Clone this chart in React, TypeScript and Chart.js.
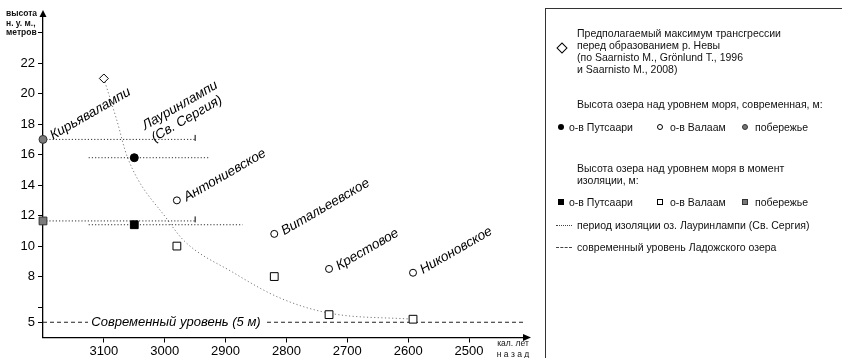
import React, { useEffect, useRef } from 'react';
import { Chart, registerables } from 'chart.js';

Chart.register(...registerables);

// ---------- data ----------
const xTicks = [3100, 3000, 2900, 2800, 2700, 2600, 2500];
const yTicks = [5, 6, 8, 10, 12, 14, 16, 18, 20, 22, 24];
const yTickLabels = ['5', '', '8', '10', '12', '14', '16', '18', '20', '22', ''];

const maxTransgression = [{ x: 3100, y: 21 }];
const coastCurrent = [{ x: 3200, y: 17 }];
const coastIsolation = [{ x: 3200, y: 11.65 }];
const putsaariCurrent = [{ x: 3050, y: 15.8 }];
const putsaariIsolation = [{ x: 3050, y: 11.4 }];

const valaamLakes = ['Антониевское', 'Витальеевское', 'Крестовое', 'Никоновское'];
const valaamYears = [2980, 2820, 2730, 2592];
const valaamCurrent = [13, 10.8, 8.5, 8.25];
const valaamIsolation = [10, 8, 5.5, 5.2];

const coastLake = 'Кирьявалампи';
const putsaariLake = ['Лауринлампи', '(Св. Сергия)'];

const curveYears = [3100, 3079, 3061, 2995, 2967, 2889, 2811, 2730, 2592];
const curveHeights = [21, 18.3, 15.8, 11.7, 10.3, 8.3, 6.6, 5.6, 5.2];

const isoLevels = [17, 15.8, 11.65, 11.4];
const isoStart = [3200, 3125, 3200, 3125];
const isoEnd = [2950, 2928, 2950, 2872];
const isoMarks = [{ x: 2950, y: 17.1 }, { x: 2950, y: 11.75 }];

const modernLevel = 5;
const xMin = 2408;
const xMax = 3200;
const yMin = 4;
const yMax = 25.1;

const modernText = 'Современный уровень (5 м)';
const yTitle = ['высота', 'н. у. м.,', 'метров'];
const xTitle = ['кал. лет', 'назад'];

const FONT = '"Liberation Sans", Arial, sans-serif';

const annotate = {
  id: 'annotate',
  afterDatasetsDraw(chart: any) {
    const { ctx, scales, chartArea } = chart;
    const xs = scales.x;
    const ys = scales.y;
    ctx.save();
    const yy = ys.getPixelForValue(modernLevel);
    const cx = chartArea.left + 133;
    ctx.fillStyle = '#fff';
    ctx.fillRect(cx - 88, yy - 7, 176, 14);
    ctx.fillStyle = '#000';
    ctx.font = 'italic 13px ' + FONT;
    ctx.textAlign = 'center';
    ctx.textBaseline = 'middle';
    ctx.fillText(modernText, cx, yy);

    const ang = -Math.PI / 6;
    const rot = (t: string, px: number, py: number, lx = 0, ly = 0) => {
      ctx.save();
      ctx.translate(px, py);
      ctx.rotate(ang);
      ctx.textAlign = 'left';
      ctx.textBaseline = 'middle';
      ctx.fillText(t, lx, ly);
      ctx.restore();
    };
    ctx.font = 'italic 13.5px ' + FONT;
    rot(coastLake, xs.getPixelForValue(coastCurrent[0].x) + 8, ys.getPixelForValue(coastCurrent[0].y) - 3);
    valaamLakes.forEach((n, i) => {
      rot(n, xs.getPixelForValue(valaamYears[i]) + 8, ys.getPixelForValue(valaamCurrent[i]) - 2);
    });
    const lx = xs.getPixelForValue(putsaariCurrent[0].x) + 9;
    const ly = ys.getPixelForValue(putsaariCurrent[0].y) - 31;
    rot(putsaariLake[0], lx, ly, 0, 0);
    rot(putsaariLake[1], lx, ly, 2, 15);
    ctx.restore();
  },
  afterDraw(chart: any) {
    const { ctx, chartArea } = chart;
    const L = chartArea.left;
    const B = chartArea.bottom;
    const T = chartArea.top;
    const R = chartArea.right;
    ctx.save();
    ctx.fillStyle = '#000';
    ctx.beginPath();
    ctx.moveTo(L, T - 6);
    ctx.lineTo(L - 3.5, T + 1);
    ctx.lineTo(L + 3.5, T + 1);
    ctx.closePath();
    ctx.fill();
    ctx.beginPath();
    ctx.moveTo(R + 6, B);
    ctx.lineTo(R - 2, B - 3.5);
    ctx.lineTo(R - 2, B + 3.5);
    ctx.closePath();
    ctx.fill();
    ctx.font = 'bold 8.5px ' + FONT;
    ctx.textAlign = 'left';
    ctx.textBaseline = 'middle';
    ctx.fillStyle = '#111';
    ctx.fillText(yTitle[0], 6, 14);
    ctx.fillText(yTitle[1], 6, 24);
    ctx.fillText(yTitle[2], 6, 33);
    ctx.font = '8.5px ' + FONT;
    ctx.textAlign = 'center';
    ctx.fillText(xTitle[0], R - 12, B + 6);
    ctx.fillText(xTitle[1].split('').join(' '), R - 12, B + 17);
    ctx.restore();
  },
};

export default function App() {
  const ref = useRef<HTMLCanvasElement>(null);

  useEffect(() => {
    if (!ref.current) return;
    const pt = (x: number, y: number) => ({ x, y });
    const lineDs = (data: any[], color: string, dash: number[]) => ({
      data,
      showLine: true,
      borderColor: color,
      borderWidth: 1,
      borderDash: dash,
      pointRadius: 0,
      fill: false,
    });
    const datasets: any[] = [
      {
        data: maxTransgression,
        pointStyle: 'rectRot',
        pointRadius: 4.5,
        backgroundColor: '#fff',
        borderColor: '#000',
        borderWidth: 1,
        clip: false,
      },
      {
        data: coastCurrent,
        pointStyle: 'circle',
        pointRadius: 4,
        backgroundColor: '#7a7a7a',
        borderColor: '#333',
        borderWidth: 1,
        clip: false,
      },
      {
        data: coastIsolation,
        pointStyle: 'rect',
        pointRadius: 5.5,
        backgroundColor: '#7a7a7a',
        borderColor: '#333',
        borderWidth: 1,
        clip: false,
      },
      {
        data: putsaariCurrent,
        pointStyle: 'circle',
        pointRadius: 4,
        backgroundColor: '#000',
        borderColor: '#000',
        borderWidth: 1,
      },
      {
        data: putsaariIsolation,
        pointStyle: 'rect',
        pointRadius: 5.5,
        backgroundColor: '#000',
        borderColor: '#000',
        borderWidth: 1,
      },
      {
        data: valaamYears.map((x, i) => pt(x, valaamCurrent[i])),
        pointStyle: 'circle',
        pointRadius: 3.5,
        backgroundColor: '#fff',
        borderColor: '#000',
        borderWidth: 1,
      },
      {
        data: valaamYears.map((x, i) => pt(x, valaamIsolation[i])),
        pointStyle: 'rect',
        pointRadius: 5.5,
        backgroundColor: '#fff',
        borderColor: '#000',
        borderWidth: 1,
      },
      {
        data: isoMarks,
        pointStyle: 'line',
        rotation: 90,
        pointRadius: 3,
        borderColor: '#000',
        borderWidth: 1,
      },
      ...isoLevels.map((lv, i) => lineDs([pt(isoStart[i], lv), pt(isoEnd[i], lv)], '#333', [1.2, 2])),
      {
        ...lineDs(curveYears.map((x, i) => pt(x, curveHeights[i])), '#777', [1.2, 2.4]),
        cubicInterpolationMode: 'monotone',
      },
      lineDs([pt(xMax, modernLevel), pt(xMin, modernLevel)], '#222', [4, 3]),
    ];

    const chart = new Chart(ref.current, {
      type: 'scatter',
      data: { datasets },
      options: {
        animation: false,
        responsive: false,
        layout: { padding: { top: 16, right: 317, left: 0, bottom: 0 } },
        plugins: { legend: { display: false }, tooltip: { enabled: false } },
        scales: {
          x: {
            type: 'linear',
            reverse: true,
            min: xMin,
            max: xMax,
            afterBuildTicks: (s: any) => {
              s.ticks = xTicks.map((v) => ({ value: v }));
            },
            afterFit: (s: any) => {
              s.height = 20.5;
            },
            grid: { display: true, drawOnChartArea: false, drawTicks: true, tickLength: 5, color: '#000', lineWidth: 1 },
            border: { display: true, color: '#000', width: 1.3 },
            ticks: {
              color: '#000',
              font: { family: FONT, size: 13 },
              padding: 1,
              maxRotation: 0,
              autoSkip: false,
              callback: (v: any) => String(v),
            },
          },
          y: {
            type: 'linear',
            min: yMin,
            max: yMax,
            afterBuildTicks: (s: any) => {
              s.ticks = yTicks.map((v) => ({ value: v }));
            },
            afterFit: (s: any) => {
              s.width = 43;
            },
            grid: { display: true, drawOnChartArea: false, drawTicks: true, tickLength: 5, color: '#000', lineWidth: 1 },
            border: { display: true, color: '#000', width: 1.3 },
            ticks: {
              color: '#000',
              font: { family: FONT, size: 13 },
              padding: 3,
              autoSkip: false,
              callback: (v: any) => {
                const i = yTicks.indexOf(v);
                return i >= 0 ? yTickLabels[i] : '';
              },
            },
          },
        },
      },
      plugins: [annotate],
    } as any);
    return () => chart.destroy();
  }, []);

  const txt = (s: string, x: number, y: number, extra: any = {}) => (
    <div
      style={{
        position: 'absolute',
        left: x,
        top: y - 7,
        lineHeight: '14px',
        fontSize: 10.5,
        fontFamily: FONT,
        color: '#111',
        whiteSpace: 'nowrap',
        ...extra,
      }}
    >
      {s}
    </div>
  );
  const mark = (x: number, y: number, style: any) => (
    <div style={{ position: 'absolute', left: x - 3, top: y - 3, width: 6, height: 6, boxSizing: 'border-box', ...style }} />
  );

  return (
    <div style={{ position: 'fixed', left: 0, top: 0, width: 842, height: 358, overflow: 'hidden', background: '#fff' }}>
      <canvas ref={ref} width={842} height={358} style={{ position: 'absolute', left: 0, top: 0 }} />
      <div
        style={{
          position: 'absolute',
          left: 545,
          top: 8,
          width: 400,
          height: 400,
          borderLeft: '1px solid #333',
          borderTop: '1px solid #333',
        }}
      />
      {txt('Предполагаемый максимум трансгрессии', 577, 33)}
      {txt('перед образованием р. Невы', 577, 45)}
      {txt('(по Saarnisto M., Grönlund T., 1996', 577, 57)}
      {txt('и Saarnisto M., 2008)', 577, 69)}
      <div
        style={{
          position: 'absolute',
          left: 558,
          top: 44,
          width: 6,
          height: 6,
          border: '1px solid #000',
          transform: 'rotate(45deg)',
          background: '#fff',
        }}
      />
      {txt('Высота озера над уровнем моря, современная, м:', 577, 104)}
      {mark(561, 127, { background: '#000', borderRadius: '50%' })}
      {txt('о-в Путсаари', 569, 127)}
      {mark(660, 127, { background: '#fff', border: '1px solid #000', borderRadius: '50%' })}
      {txt('о-в Валаам', 670, 127)}
      {mark(745, 127, { background: '#777', border: '1px solid #333', borderRadius: '50%' })}
      {txt('побережье', 755, 127)}
      {txt('Высота озера над уровнем моря в момент', 577, 168)}
      {txt('изоляции, м:', 577, 180)}
      {mark(561, 202, { background: '#000' })}
      {txt('о-в Путсаари', 569, 202)}
      {mark(660, 202, { background: '#fff', border: '1px solid #000' })}
      {txt('о-в Валаам', 670, 202)}
      {mark(745, 202, { background: '#777', border: '1px solid #333' })}
      {txt('побережье', 755, 202)}
      <div style={{ position: 'absolute', left: 556, top: 225, width: 16, borderTop: '1px dotted #444' }} />
      {txt('период изоляции оз. Лауринлампи (Св. Сергия)', 577, 225)}
      <div style={{ position: 'absolute', left: 556, top: 247, width: 16, borderTop: '1px dashed #444' }} />
      {txt('современный уровень Ладожского озера', 577, 247)}
    </div>
  );
}
